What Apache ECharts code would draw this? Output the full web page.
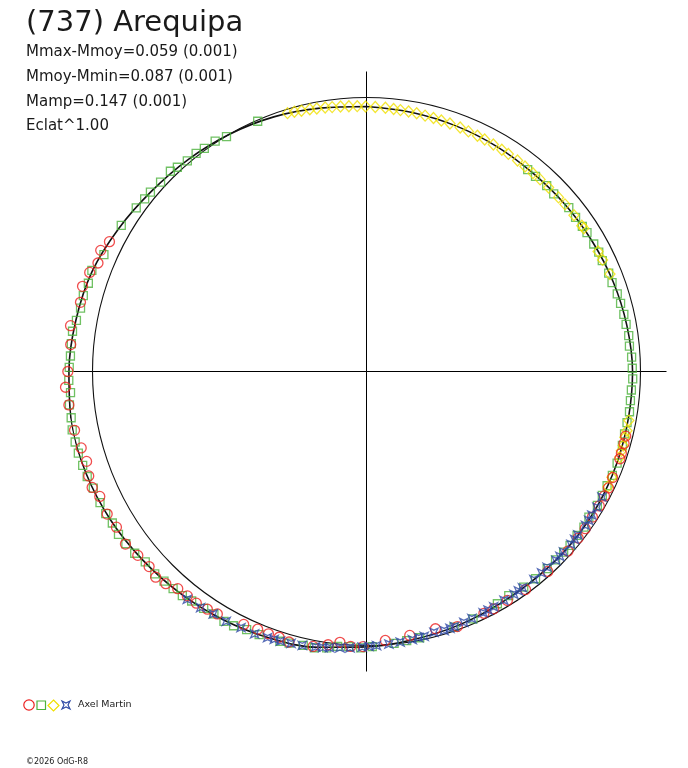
<!DOCTYPE html>
<html>
<head>
<meta charset="utf-8">
<script src="https://cdn.jsdelivr.net/npm/echarts@6/dist/echarts.min.js"></script>
<style>
  html, body { margin: 0; padding: 0; background: #fff; }
  #chart { width: 688px; height: 768px; }
</style>
</head>
<body>
<div id="chart"></div>
<script>
// phase angle (deg, clockwise from top), relative flux (1 = mean)
var fitCurve = [
  [0, 0.967], [10, 0.960], [20, 0.954], [30, 0.949], [40, 0.945], [50, 0.947],
  [60, 0.951], [70, 0.958], [80, 0.965], [90, 0.971], [100, 0.971], [110, 0.973],
  [120, 0.975], [130, 0.976], [140, 0.975], [150, 0.977], [160, 0.985], [170, 0.993],
  [180, 1.005], [190, 1.022], [200, 1.035], [210, 1.046], [220, 1.057], [230, 1.068],
  [240, 1.080], [250, 1.089], [260, 1.093], [270, 1.086], [280, 1.077], [290, 1.066],
  [300, 1.044], [310, 1.024], [320, 1.011], [330, 1.000], [340, 0.989], [350, 0.976],
  [360, 0.967]
];

var redPts = [
  [296.8, 1.051], [294.5, 1.066], [292, 1.057], [289.7, 1.073], [286.7, 1.082], [283.6, 1.074],
  [278.8, 1.093], [275.2, 1.084], [270, 1.090], [267, 1.100], [263.6, 1.093], [258.6, 1.087],
  [255, 1.078], [252.2, 1.073], [249.4, 1.083], [247.1, 1.087], [244.9, 1.075], [241.2, 1.080],
  [238.1, 1.075], [234.4, 1.082], [231.2, 1.071], [228.1, 1.066], [225.7, 1.075], [223.4, 1.066],
  [221, 1.050], [218.6, 1.048], [216.3, 1.049], [213.8, 1.044], [211.6, 1.039], [205.9, 1.026],
  [202.9, 1.021], [200.5, 1.022], [198.2, 1.021], [196, 1.027], [191, 1.022], [188, 1.007],
  [185.6, 0.993], [183.3, 1.005], [180.7, 1.004], [176, 0.984], [170.7, 0.976], [165, 0.972],
  [160.4, 0.988], [154.1, 0.981], [151.8, 0.983], [148.4, 0.981], [143.9, 0.985], [137.8, 0.985],
  [131.7, 0.985], [128.2, 0.983], [125.7, 0.983], [122.8, 0.981], [120, 0.981], [117.6, 0.980],
  [115.7, 0.980], [113.3, 0.978], [109, 0.978], [107.8, 0.977], [105.6, 0.976], [104, 0.975]
];

var greenPts = [
  [336.5, 0.996], [329.2, 0.998], [326.7, 1.006], [324, 1.007], [322, 1.010], [319.6, 1.009],
  [317.2, 1.016], [315.6, 1.023], [312.6, 1.021], [309.7, 1.025], [307.9, 1.026], [305.4, 1.031],
  [300.8, 1.042], [294, 1.049], [290.2, 1.068], [287.6, 1.065], [285, 1.070], [282.5, 1.069],
  [280, 1.075], [277.8, 1.083], [275.4, 1.082], [273, 1.082], [270.8, 1.085], [268.3, 1.087],
  [265.9, 1.083], [263.6, 1.091], [261.1, 1.091], [258.8, 1.095], [256.4, 1.094], [254.2, 1.093],
  [251.7, 1.091], [249.4, 1.089], [246.9, 1.084], [243.8, 1.084], [241.4, 1.084], [239.2, 1.080],
  [236.7, 1.083], [234.4, 1.080], [231.9, 1.075], [229.3, 1.065], [226.3, 1.069], [224, 1.064],
  [221.7, 1.061], [219.4, 1.059], [217.3, 1.053], [214.5, 1.049], [212.2, 1.045], [209.7, 1.050],
  [207.6, 1.047], [204.9, 1.039], [202.2, 1.037], [197.8, 1.034], [195.9, 1.031], [193, 1.026],
  [190.7, 1.026], [188.2, 1.019], [186, 1.009], [183.7, 1.006], [181.2, 1.009], [178.8, 1.004],
  [174.2, 0.997], [171.5, 0.993], [168.7, 0.991], [161.1, 0.986], [156.7, 0.983], [150.6, 0.973],
  [147.6, 0.969], [143.9, 0.974], [140.8, 0.976], [137.5, 0.976], [134.9, 0.974], [132.5, 0.976],
  [130.5, 0.977], [127.9, 0.974], [125.6, 0.976], [123.2, 0.970], [120.1, 0.974], [117.7, 0.972],
  [115.4, 0.972], [112.9, 0.974], [110.1, 0.974], [106.1, 0.972], [103.6, 0.969], [101.1, 0.969],
  [98.7, 0.971], [96.3, 0.969], [94, 0.969], [91.6, 0.972], [89.3, 0.970], [86.9, 0.969],
  [84.5, 0.964], [82.2, 0.966], [79.7, 0.963], [77.5, 0.962], [75, 0.960], [72.8, 0.958],
  [70.1, 0.953], [67.9, 0.954], [64.8, 0.951], [62.8, 0.953], [60.7, 0.951], [57.8, 0.951],
  [56.1, 0.949], [53.6, 0.948], [51, 0.950], [46.5, 0.942], [44.1, 0.945], [40.9, 0.942],
  [38.6, 0.943]
];

var yellowPts = [
  [343, 0.986], [344.5, 0.984], [346, 0.981], [347.8, 0.979], [349.3, 0.977], [351.1, 0.975],
  [352.6, 0.973], [354.4, 0.972], [356.2, 0.970], [358, 0.969], [359.8, 0.967], [1.9, 0.966],
  [4.1, 0.965], [5.9, 0.963], [7.4, 0.962], [9.2, 0.961], [11, 0.960], [12.9, 0.958],
  [14.8, 0.957], [16.6, 0.956], [18.6, 0.955], [21, 0.954], [23, 0.952], [25.2, 0.951],
  [27, 0.950], [29.2, 0.949], [31.4, 0.948], [33.1, 0.948], [35.6, 0.947], [37.7, 0.946],
  [40, 0.945], [42.1, 0.945], [44.7, 0.945], [47.8, 0.946], [49.9, 0.947], [53, 0.948],
  [55.9, 0.949], [56.6, 0.950], [62.6, 0.952], [64.7, 0.953], [68.2, 0.957],
  [100.6, 0.974], [102.8, 0.975], [104.3, 0.973], [106.1, 0.975], [107.3, 0.974], [108.7, 0.976],
  [113.3, 0.975], [115.5, 0.976]
];

var bluePts = [
  [218.2, 1.058], [215.1, 1.053], [212.3, 1.047], [209.3, 1.046], [206.1, 1.041], [203.1, 1.041],
  [200.4, 1.036], [199, 1.034], [197.7, 1.033], [195.5, 1.030], [193.2, 1.027], [190.5, 1.022],
  [189, 1.020], [187.6, 1.017], [185.5, 1.013], [183.4, 1.010], [180.9, 1.006], [179.5, 1.003],
  [177.9, 1.001], [175.3, 0.998], [172.9, 0.995], [170.3, 0.993], [168.9, 0.990], [167.7, 0.989],
  [165.5, 0.983], [163.3, 0.987], [162, 0.986], [161, 0.985], [158.8, 0.982], [156.9, 0.980],
  [154.2, 0.978], [153, 0.977], [151.6, 0.976], [149, 0.974], [146.5, 0.975], [145.3, 0.974],
  [144.2, 0.973], [141.2, 0.975], [139, 0.974], [137.3, 0.972], [134.9, 0.976], [133.7, 0.976],
  [132.5, 0.975], [130.2, 0.977], [128.9, 0.976], [127.7, 0.975], [125.1, 0.977], [123.8, 0.976],
  [122.5, 0.975], [120.5, 0.976], [118.1, 0.974]
];

var titleText = '(737) Arequipa';
var infoLines = ['Mmax-Mmoy=0.059 (0.001)', 'Mmoy-Mmin=0.087 (0.001)', 'Mamp=0.147 (0.001)', 'Eclat^1.00'];
var observer = 'Axel Martin';
var credit = '\u00a92026 OdG-R8';

var cRed = '#ec2020', cGreen = '#4cb23c', cYellow = '#f0e000', cBlue = '#2f4aa6', ink = '#1a1a1a';
var starPath = 'path://M0,0 L5,2.4 L10,0 L7.6,5 L10,10 L5,7.6 L0,10 L2.4,5 Z';
var font = '"DejaVu Sans", sans-serif';

var cx = 366.5, cy = 371.5, outerR = 300, refR = 274;

function toPolar(pts) {
  return pts.map(function (p) { return [p[1], p[0]]; });
}

function markerSeries(pts, symbol, size, color) {
  return {
    type: 'scatter',
    coordinateSystem: 'polar',
    polarIndex: 0,
    symbol: symbol,
    symbolSize: size,
    clip: false,
    silent: true,
    itemStyle: { color: 'rgba(0,0,0,0)', borderColor: color, borderWidth: 1.3 },
    data: toPolar(pts)
  };
}

var chart = echarts.init(document.getElementById('chart'), null, { renderer: 'canvas' });

var graphics = [
  { type: 'text', left: 26, top: 9, style: { text: titleText, font: '29px ' + font, fill: ink } }
];
infoLines.forEach(function (t, i) {
  graphics.push({ type: 'text', left: 26, top: 45 + i * 24.7, style: { text: t, font: '15px ' + font, fill: ink } });
});
// legend row
graphics.push({ type: 'circle', shape: { cx: 29, cy: 705, r: 5.2 }, style: { fill: 'none', stroke: cRed, lineWidth: 1.2 } });
graphics.push({ type: 'rect', shape: { x: 37, y: 701, width: 8.5, height: 8.5 }, style: { fill: 'none', stroke: cGreen, lineWidth: 1.2 } });
graphics.push({ type: 'polygon', shape: { points: [[53.5, 700], [59, 705.5], [53.5, 711], [48, 705.5]] }, style: { fill: 'none', stroke: cYellow, lineWidth: 1.2 } });
graphics.push({ type: 'polygon', shape: { points: [[62, 701], [66, 703], [70, 701], [68, 705], [70, 709], [66, 707], [62, 709], [64, 705]] }, style: { fill: 'none', stroke: cBlue, lineWidth: 1.2 } });
graphics.push({ type: 'text', left: 78, top: 700, style: { text: observer, font: '9.5px ' + font, fill: ink } });
graphics.push({ type: 'text', left: 26, top: 758, style: { text: credit, font: '8px ' + font, fill: ink } });

chart.setOption({
  animation: false,
  backgroundColor: '#fff',
  polar: [
    { center: [cx, cy], radius: outerR },
    { center: [cx, cy], radius: refR }
  ],
  angleAxis: [
    {
      polarIndex: 0, type: 'value', min: 0, max: 360, interval: 90,
      startAngle: 90, clockwise: true,
      axisLine: { show: false }, axisTick: { show: false }, axisLabel: { show: false },
      splitLine: { show: true, lineStyle: { color: '#000', width: 1 } }
    },
    {
      polarIndex: 1, type: 'value', min: 0, max: 360,
      startAngle: 90, clockwise: true,
      axisLine: { show: true, lineStyle: { color: '#111', width: 1.1 } },
      axisTick: { show: false }, axisLabel: { show: false }, splitLine: { show: false }
    }
  ],
  radiusAxis: [
    {
      polarIndex: 0, type: 'value', min: 0, max: outerR / refR,
      axisLine: { show: false }, axisTick: { show: false }, axisLabel: { show: false },
      splitLine: { show: false }
    },
    {
      polarIndex: 1, type: 'value', min: 0, max: 1,
      axisLine: { show: false }, axisTick: { show: false }, axisLabel: { show: false },
      splitLine: { show: false }
    }
  ],
  graphic: graphics,
  series: [
    {
      type: 'line',
      coordinateSystem: 'polar',
      polarIndex: 0,
      smooth: 0.35,
      showSymbol: false,
      silent: true,
      clip: false,
      lineStyle: { color: '#111', width: 1.6 },
      data: toPolar(fitCurve),
      z: 1
    },
    markerSeries(greenPts, 'rect', 8, cGreen),
    markerSeries(yellowPts, 'diamond', [10, 11], cYellow),
    markerSeries(redPts, 'circle', 10, cRed),
    markerSeries(bluePts, starPath, 8, cBlue)
  ]
});
</script>
</body>
</html>
